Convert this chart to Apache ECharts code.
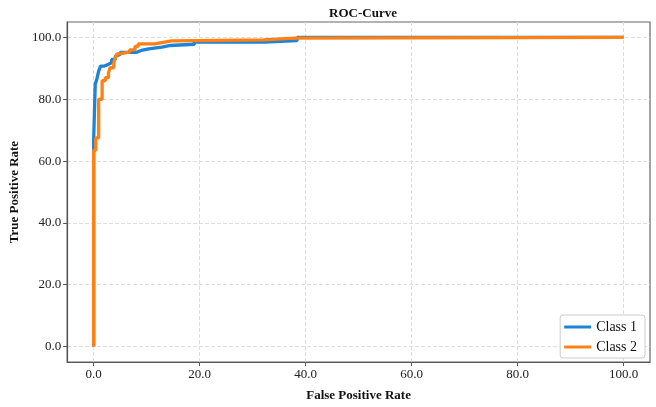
<!DOCTYPE html>
<html>
<head>
<meta charset="utf-8">
<script src="https://cdn.jsdelivr.net/npm/echarts@6/dist/echarts.min.js"></script>
<style>
  html, body { margin: 0; padding: 0; background: #fff; }
  #roc { width: 656px; height: 407px; }
</style>
</head>
<body>
<div id="roc"></div>
<script>
// ROC points (percent)
const seriesNames = ['Class 1', 'Class 2']
const fpr1 = [0, 0, 0.3, 0.3, 0.6, 0.6, 0.95, 0.95, 1.3, 1.3, 1.9, 1.9, 2.8, 2.8, 3.4, 3.4, 4.1, 4.1, 4.4, 4.4, 5.0, 5.0, 8.1, 8.1, 9.0, 9.0, 10.4, 10.4, 12.9, 12.9, 14.5, 14.5, 19.0, 19.0, 32.3, 32.3, 38.4, 38.4, 100]
const tpr1 = [0, 66.8, 66.8, 84.9, 84.9, 86.5, 86.5, 89.1, 89.1, 90.7, 90.7, 91.3, 91.3, 91.8, 91.8, 92.9, 92.9, 93.9, 93.9, 94.5, 94.5, 95.2, 95.2, 95.8, 95.8, 96.3, 96.3, 96.9, 96.9, 97.4, 97.4, 97.8, 97.8, 98.5, 98.5, 99.0, 99.0, 100, 100]
const fpr2 = [0, 0, 0.4, 0.4, 0.95, 0.95, 1.6, 1.6, 2.2, 2.2, 2.8, 2.8, 3.1, 3.1, 3.8, 3.8, 4.1, 4.1, 4.4, 4.4, 5.0, 5.0, 6.8, 6.8, 7.8, 7.8, 8.4, 8.4, 11.5, 11.5, 13.4, 13.4, 14.7, 14.7, 32.0, 32.0, 38.0, 38.0, 100]
const tpr2 = [0, 63.5, 63.5, 67.5, 67.5, 80.0, 80.0, 86.0, 86.0, 87.0, 87.0, 88.6, 88.6, 90.2, 90.2, 91.8, 91.8, 93.4, 93.4, 94.7, 94.7, 95.3, 95.3, 96.0, 96.0, 97.1, 97.1, 97.9, 97.9, 98.5, 98.5, 98.9, 98.9, 99.2, 99.2, 99.8, 99.8, 100, 100]

const serif = 'Liberation Serif'

function pairs(xs, ys) {
  return xs.map((x, i) => [x, ys[i]])
}

const chart = echarts.init(document.getElementById('roc'))

const axisCommon = {
  type: 'value',
  min: -5,
  max: 105,
  splitNumber: 5,
  axisLine: { show: true, onZero: false, lineStyle: { color: '#555', width: 1.2 } },
  axisTick: { show: true, length: 4, lineStyle: { color: '#555' } },
  axisLabel: {
    showMinLabel: false,
    showMaxLabel: false,
    color: '#222',
    fontFamily: serif,
    fontSize: 13,
    margin: 6,
    formatter: v => v.toFixed(1)
  },
  splitLine: {
    show: true,
    showMinLine: false,
    showMaxLine: false,
    lineStyle: { color: '#ddd', type: 'dashed', width: 1 }
  },
  nameLocation: 'middle',
  nameTextStyle: { fontFamily: serif, fontWeight: 'bold', fontSize: 13, color: '#111' }
}

const option = {
  animation: false,
  backgroundColor: '#fff',
  title: {
    text: 'ROC-Curve',
    left: 358,
    textAlign: 'center',
    top: 2,
    textStyle: { fontFamily: serif, fontWeight: 'bold', fontSize: 13, color: '#111' }
  },
  grid: {
    left: 66,
    right: 6,
    top: 22,
    bottom: 42,
    show: true,
    borderColor: '#666',
    borderWidth: 1.2
  },
  legend: {
    orient: 'vertical',
    right: 11,
    bottom: 49,
    icon: 'rect',
    itemWidth: 27,
    itemHeight: 3,
    itemGap: 6,
    padding: [5, 8, 4, 4],
    borderColor: '#ccc',
    borderWidth: 1,
    borderRadius: 3,
    backgroundColor: '#fff',
    textStyle: { fontFamily: serif, fontSize: 14, color: '#111' },
    data: seriesNames
  },
  xAxis: Object.assign({}, axisCommon, { name: 'False Positive Rate', nameGap: 27 }),
  yAxis: Object.assign({}, axisCommon, { name: 'True Positive Rate', nameGap: 37 }),
  series: [
    {
      name: seriesNames[0],
      type: 'line',
      showSymbol: false,
      data: pairs(fpr1, tpr1),
      lineStyle: { color: '#1f83d6', width: 3.3 },
      itemStyle: { color: '#1f83d6' }
    },
    {
      name: seriesNames[1],
      type: 'line',
      showSymbol: false,
      data: pairs(fpr2, tpr2),
      lineStyle: { color: '#ff8014', width: 3.3 },
      itemStyle: { color: '#ff8014' }
    }
  ]
}

chart.setOption(option)
</script>
</body>
</html>
